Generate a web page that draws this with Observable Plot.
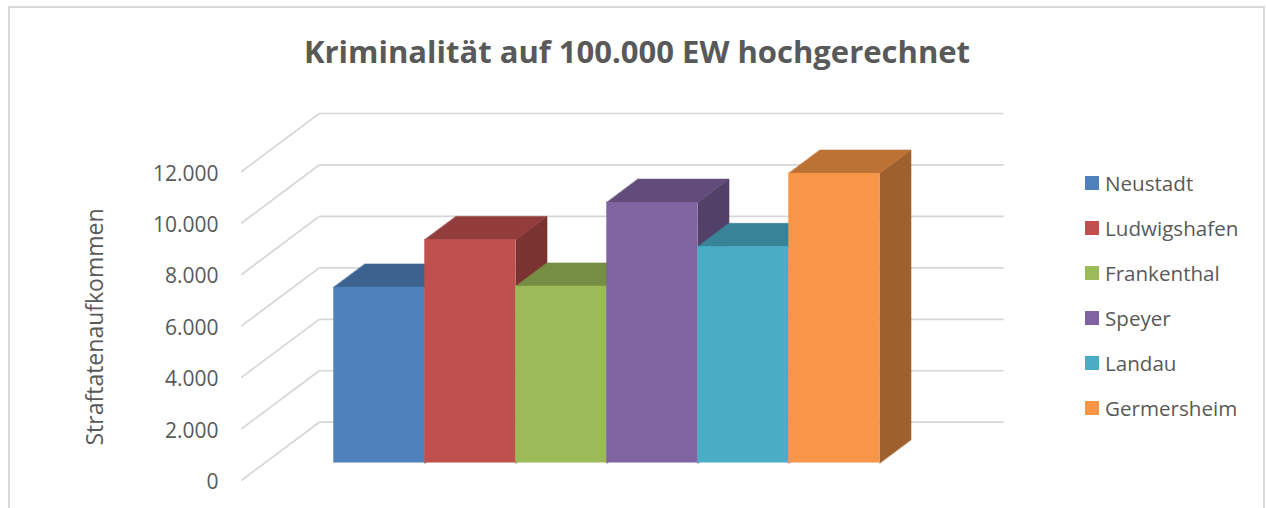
<!DOCTYPE html>
<html>
<head>
<meta charset="utf-8">
<script src="https://cdn.jsdelivr.net/npm/d3@7"></script>
<script src="https://cdn.jsdelivr.net/npm/@observablehq/plot@0.6"></script>
<style>
  html, body { margin: 0; padding: 0; background: #ffffff; }
  body { width: 1266px; height: 508px; position: relative; overflow: hidden; font-family: "Open Sans", sans-serif; }
  #frame { position: absolute; left: 8px; top: 6px; width: 1257px; height: 600px; border: 2px solid #d9d9d9; box-sizing: border-box; }
  #title { position: absolute; left: 0; top: 30px; width: 1266px; padding-left: 8px; box-sizing: border-box; text-align: center;
           font-family: "Open Sans", sans-serif; font-weight: bold; font-size: 31px; color: #595959; white-space: nowrap; }
  #chart { position: absolute; left: 0; top: 100px; }
  #legend { position: absolute; left: 1085px; top: 160px; }
  #legend > div { margin: 0 !important; font-family: "Open Sans", sans-serif !important; font-size: 20.6px !important; color: #595959 !important; }
  #legend > div > div { height: 45px !important; padding: 0 !important; display: flex !important; align-items: center !important; }
  #legend svg { margin-right: 6px !important; }
</style>
</head>
<body>
<div id="frame"></div>
<div id="title">Kriminalität auf 100.000 EW hochgerechnet</div>
<div id="chart"></div>
<div id="legend"></div>
<script>
// ---- data ----
const cities = ["Neustadt", "Ludwigshafen", "Frankenthal", "Speyer", "Landau", "Germersheim"];
const values = [6830, 8680, 6870, 10130, 8410, 11260];
const colors = ["#4F81BD", "#C0504D", "#9BBB59", "#8064A2", "#4BACC6", "#F79646"];
const yTicks = [0, 2000, 4000, 6000, 8000, 10000, 12000];
const yLabel = "Straftatenaufkommen";

// ---- oblique 3D projection helpers (depth expressed in data units) ----
const DX = 0.857;   // depth shift along x (bar-width units)
const DY = 2266;    // depth shift along y (value units)
const F1 = 0.3, F2 = 0.7; // bar front / back depth
const GAP = 0.76;   // wall margin on both sides (bar-width units)
const N = cities.length;
const P = (u, v, d) => ({x: u + d * DX, y: v + d * DY});
const shade = (c, k) => { const o = d3.rgb(c); return d3.rgb(o.r * k, o.g * k, o.b * k).formatHex(); };

const bars = cities.map((city, i) => ({city, i, v: values[i], color: colors[i]}));
const fronts = bars.map(b => {
  const a = P(b.i, 0, F1), c = P(b.i + 1, b.v, F1);
  return {city: b.city, x1: a.x, x2: c.x, y1: a.y, y2: c.y, fill: b.color};
});
const tops = bars.flatMap(b => [[b.i, F1], [b.i + 1, F1], [b.i + 1, F2], [b.i, F2]]
  .map(([u, d]) => ({city: b.city, ...P(u, b.v, d), fill: shade(b.color, 0.76)})));
const sides = bars.flatMap(b => [[0, F1], [b.v, F1], [b.v, F2], [0, F2]]
  .map(([v, d]) => ({city: b.city, ...P(b.i + 1, v, d), fill: shade(b.color, 0.64)})));

const locale = d3.formatLocale({decimal: ",", thousands: ".", grouping: [3], currency: ["", " €"]});
const fmt = locale.format(",");
const grid = "#d6d6d6";

const plot = Plot.plot({
  width: 1266,
  height: 408,
  marginLeft: 240,
  marginTop: 45,
  marginBottom: 0,
  marginRight: 0,
  style: {color: "#595959", fontFamily: "Open Sans, sans-serif", background: "transparent", overflow: "visible"},
  x: {type: "linear", domain: [0, N], range: [309.9, 855.9], axis: null},
  y: {type: "linear", domain: [0, 12000], range: [380, 71.3], axis: null},
  color: {type: "identity"},
  marks: [
    // back wall gridlines
    Plot.link(yTicks, {
      x1: () => P(-GAP, 0, 1).x, x2: () => P(N + GAP, 0, 1).x,
      y1: t => P(0, t, 1).y, y2: t => P(0, t, 1).y,
      stroke: grid, strokeWidth: 1.7
    }),
    // side wall diagonals
    Plot.link(yTicks, {
      x1: () => P(-GAP, 0, 0).x, x2: () => P(-GAP, 0, 1).x,
      y1: t => P(0, t, 0).y, y2: t => P(0, t, 1).y,
      stroke: grid, strokeWidth: 1.7
    }),
    // bar side faces
    Plot.line(sides, {x: "x", y: "y", z: "city", fill: "fill", stroke: "fill", strokeWidth: 0.6, curve: "linear-closed"}),
    // bar top faces
    Plot.line(tops, {x: "x", y: "y", z: "city", fill: "fill", stroke: "fill", strokeWidth: 0.6, curve: "linear-closed"}),
    // bar front faces
    Plot.rect(fronts, {x1: "x1", x2: "x2", y1: "y1", y2: "y2", fill: "fill"}),
    // y axis (front plane)
    Plot.axisY({ticks: yTicks, tickFormat: fmt, anchor: "left", tickSize: 0, tickPadding: 22, fontSize: 21, dy: 2, label: null}),
    // y axis title
    Plot.text([yLabel], {text: d => d, frameAnchor: "left", rotate: -90, dx: -145, fontSize: 23, textAnchor: "middle", lineAnchor: "middle"})
  ]
});
document.getElementById("chart").appendChild(plot);

const legend = Plot.legend({
  color: {type: "ordinal", domain: cities, range: colors},
  legend: "swatches",
  columns: 1,
  swatchSize: 14,
  className: "lg"
});
document.getElementById("legend").appendChild(legend);
</script>
</body>
</html>
